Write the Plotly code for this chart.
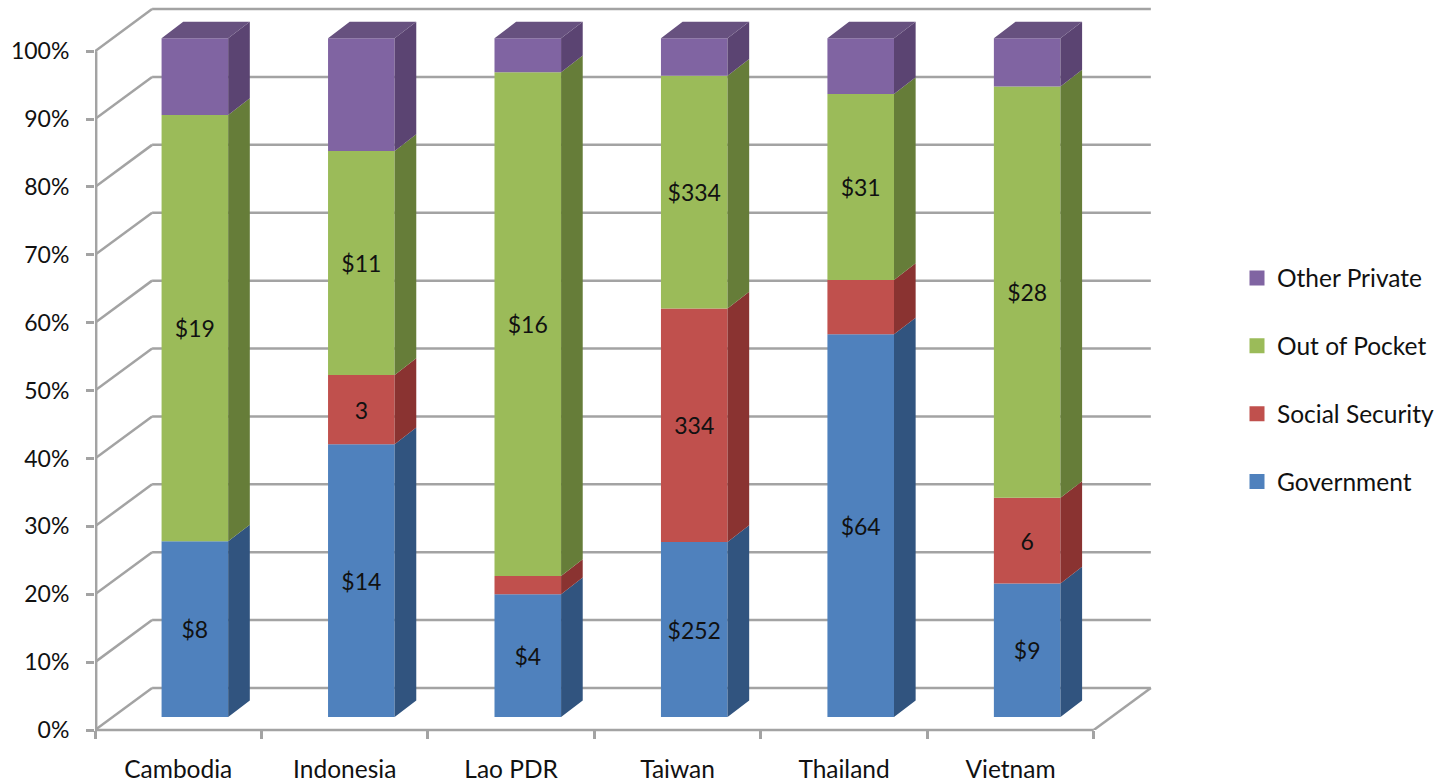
import plotly.graph_objects as go

# Share of health spending by financing source, per country (percent of total)
countries = ["Cambodia", "Indonesia", "Lao PDR", "Taiwan", "Thailand", "Vietnam"]
government = [25.9, 40.2, 18.1, 25.8, 56.4, 19.7]
social_security = [0.0, 10.2, 2.7, 34.4, 8.0, 12.6]
out_of_pocket = [62.8, 33.0, 74.2, 34.3, 27.4, 60.6]
other_private = [11.3, 16.6, 5.0, 5.5, 8.2, 7.1]

# Labels printed on the segments (dollar amounts per capita)
government_labels = ["$8", "$14", "$4", "$252", "$64", "$9"]
social_security_labels = ["", "3", "", "334", "", "6"]
out_of_pocket_labels = ["$19", "$11", "$16", "$334", "$31", "$28"]
other_private_labels = ["", "", "", "", "", ""]

percent_ticks = [0, 10, 20, 30, 40, 50, 60, 70, 80, 90, 100]

# Pseudo-3D projection expressed in axis units
X_RANGE = (0, 6.41)
Y_RANGE = (0, 107.1)
WALL_DX, WALL_DY = 0.343, 6.2      # depth of the floor and side wall
BAR_SHIFT_X, BAR_SHIFT_Y = 0.10, 1.9  # bars stand part way into the floor
BAR_WIDTH = 0.40
BAR_DX, BAR_DY = 0.13, 2.45        # depth of each column

GRID = "#A3A3A3"
INK = "#111111"
FONT = "Lato, Carlito, sans-serif"
FONT_SIZE = 24.5
VALUE_FONT_SIZE = 23

series = [
    ("Government", government, government_labels, "#4F81BD", "#31547F", None),
    ("Social Security", social_security, social_security_labels, "#C0504D", "#8A3331", None),
    ("Out of Pocket", out_of_pocket, out_of_pocket_labels, "#9BBB59", "#667D39", None),
    ("Other Private", other_private, other_private_labels, "#8064A2", "#5B4472", "#67517F"),
]

fig = go.Figure()
centers = [i + 0.5 + BAR_SHIFT_X for i in range(len(countries))]
running = [0.0] * len(countries)

for name, values, labels, front, side, top in series:
    bases = list(running)
    fig.add_trace(go.Bar(
        x=centers, y=values, base=[b + BAR_SHIFT_Y for b in bases], width=BAR_WIDTH,
        marker=dict(color=front, line=dict(width=0)),
        text=labels, textposition="inside", insidetextanchor="middle",
        textangle=0, constraintext="none",
        textfont=dict(family=FONT, size=VALUE_FONT_SIZE, color=INK),
        name=name, showlegend=False, hoverinfo="name+y",
    ))

    # Right-hand face of each column segment
    sx, sy = [], []
    for c, b, v in zip(centers, bases, values):
        x1 = c + BAR_WIDTH / 2
        lo, hi = b + BAR_SHIFT_Y, b + v + BAR_SHIFT_Y
        sx += [x1, x1 + BAR_DX, x1 + BAR_DX, x1, x1, None]
        sy += [lo, lo + BAR_DY, hi + BAR_DY, hi, lo, None]
    fig.add_trace(go.Scatter(
        x=sx, y=sy, mode="lines", fill="toself", fillcolor=side,
        line=dict(width=0, color=side), showlegend=False, hoverinfo="skip",
    ))

    running = [b + v for b, v in zip(bases, values)]

    # Lid on the uppermost series
    if top:
        tx, ty = [], []
        for c, r in zip(centers, running):
            x0, x1 = c - BAR_WIDTH / 2, c + BAR_WIDTH / 2
            hi = r + BAR_SHIFT_Y
            tx += [x0, x0 + BAR_DX, x1 + BAR_DX, x1, x0, None]
            ty += [hi, hi + BAR_DY, hi + BAR_DY, hi, hi, None]
        fig.add_trace(go.Scatter(
            x=tx, y=ty, mode="lines", fill="toself", fillcolor=top,
            line=dict(width=0, color=top), showlegend=False, hoverinfo="skip",
        ))

# Legend entries, listed top to bottom as Other Private ... Government
for name, _, _, front, _, _ in reversed(series):
    fig.add_trace(go.Scatter(
        x=[None], y=[None], mode="markers", name=name, legendgroup=name,
        marker=dict(symbol="square", size=15, color=front),
        hoverinfo="skip",
    ))

n = len(countries)

# Wall gridlines and the far side of the floor sit beneath the columns
line_style = dict(color=GRID, width=2.5)
wall = dict(type="line", xref="x", yref="y", layer="below", line=line_style)
shapes = []
for t in percent_ticks:
    shapes.append(dict(wall, x0=0, y0=t, x1=WALL_DX, y1=t + WALL_DY))
    shapes.append(dict(wall, x0=WALL_DX, y0=t + WALL_DY, x1=n + WALL_DX, y1=t + WALL_DY))
shapes.append(dict(wall, x0=n, y0=0, x1=n + WALL_DX, y1=WALL_DY))

# Front axis lines; the vertical one sits just inside the plot edge so it stays visible
shapes.append(dict(type="line", xref="x", yref="y", layer="above", line=line_style,
                   x0=0.007, x1=0.007, y0=0, y1=percent_ticks[-1]))
shapes.append(dict(type="line", xref="x", yref="paper", layer="above", line=line_style,
                   x0=0, x1=n, y0=0, y1=0))

PLOT_LEFT, PLOT_RIGHT, PLOT_TOP, PLOT_BOTTOM = 95, 1162, 3, 730

fig.update_layout(
    width=1446, height=782, autosize=False,
    margin=dict(l=PLOT_LEFT, r=1446 - PLOT_RIGHT, t=PLOT_TOP, b=782 - PLOT_BOTTOM, pad=0),
    paper_bgcolor="white", plot_bgcolor="white",
    barmode="overlay", shapes=shapes,
    font=dict(family=FONT, size=FONT_SIZE, color=INK),
    xaxis=dict(
        range=list(X_RANGE), showgrid=False, zeroline=False, showline=False, automargin=False,
        tickmode="array", tickvals=[i + 0.5 for i in range(n)], ticktext=countries,
        ticks="outside", ticklen=0, tickcolor="rgba(0,0,0,0)", ticklabelstandoff=18,
        minor=dict(tickmode="array", tickvals=list(range(n + 1)), ticks="outside",
                   ticklen=8, tickwidth=2.5, tickcolor=GRID, showgrid=False),
    ),
    yaxis=dict(
        range=list(Y_RANGE), showgrid=False, zeroline=False, showline=False, automargin=False,
        tickmode="array", tickvals=percent_ticks,
        ticktext=[f"{t}%" for t in percent_ticks], tickfont=dict(size=VALUE_FONT_SIZE),
        ticks="outside", ticklen=8, tickwidth=2.5, tickcolor=GRID, ticklabelstandoff=12,
    ),
    legend=dict(
        x=(1237 - PLOT_LEFT) / (PLOT_RIGHT - PLOT_LEFT),
        y=(PLOT_BOTTOM - 380) / (PLOT_BOTTOM - PLOT_TOP),
        yanchor="middle", traceorder="grouped", tracegroupgap=33, bgcolor="rgba(0,0,0,0)",
        font=dict(family=FONT, size=FONT_SIZE, color=INK),
    ),
)

fig.write_html("out.html")
